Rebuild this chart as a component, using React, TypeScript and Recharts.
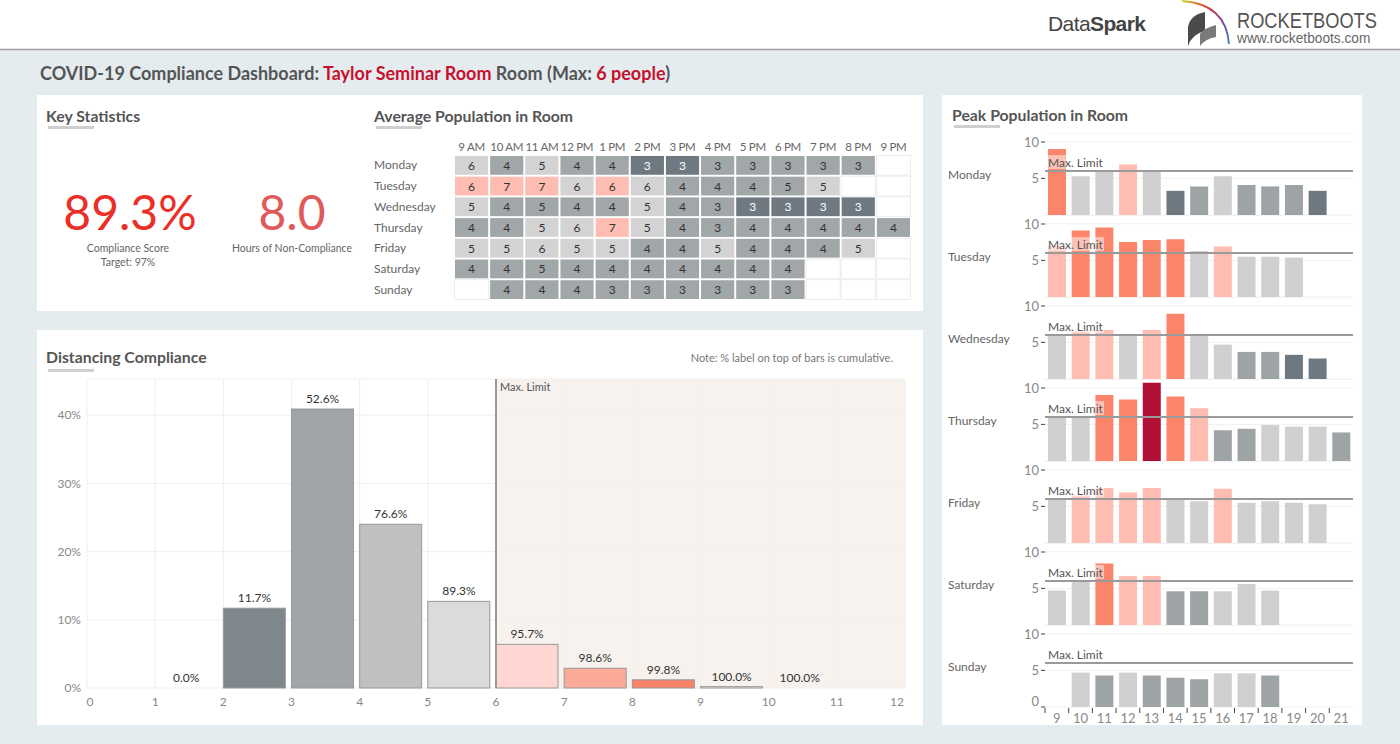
import React from 'react';
import {
  BarChart, Bar, Line, ComposedChart, XAxis, YAxis, CartesianGrid, ReferenceLine, ReferenceArea,
  LabelList, Cell, ScatterChart, Scatter,
} from 'recharts';

const FONT = 'Lato, "Open Sans", sans-serif';

// ---- shared dimensions ----
const days = ['Monday', 'Tuesday', 'Wednesday', 'Thursday', 'Friday', 'Saturday', 'Sunday'];
const hourLabels = ['9 AM', '10 AM', '11 AM', '12 PM', '1 PM', '2 PM', '3 PM', '4 PM', '5 PM', '6 PM', '7 PM', '8 PM', '9 PM'];
const hours = [9, 10, 11, 12, 13, 14, 15, 16, 17, 18, 19, 20, 21];
const maxPeople = 6;

// ---- key statistics ----
const complianceScore = '89.3%';
const complianceTarget = 'Target: 97%';
const hoursNonCompliance = '8.0';

// ---- average population (heatmap), null = no data ----
const avgMon = [6, 4, 5, 4, 4, 3, 3, 3, 3, 3, 3, 3, null];
const avgTue = [6, 7, 7, 6, 6, 6, 4, 4, 4, 5, 5, null, null];
const avgWed = [5, 4, 5, 4, 4, 5, 4, 3, 3, 3, 3, 3, null];
const avgThu = [4, 4, 5, 6, 7, 5, 4, 3, 4, 4, 4, 4, 4];
const avgFri = [5, 5, 6, 5, 5, 4, 4, 5, 4, 4, 4, 5, null];
const avgSat = [4, 4, 5, 4, 4, 4, 4, 4, 4, 4, null, null, null];
const avgSun = [null, 4, 4, 4, 3, 3, 3, 3, 3, 3, null, null, null];
const avgByDay = [avgMon, avgTue, avgWed, avgThu, avgFri, avgSat, avgSun];
// colour band per cell: L light, M mid, D dark, P pink
const avgBands = [
  'LMLMMDDMMMMM-',
  'PPPLPLMMMML--',
  'LMMMMLMMDDDD-',
  'MMLLPLMMMMMMM',
  'LLLLLMMLMMML-',
  'MMMMMMMMMM---',
  '-MMMMMMMMM---',
];

// ---- peak population per hour ----
const peakMon = [9, 5.3, 6.1, 6.9, 6.1, 3.3, 3.9, 5.3, 4.1, 3.9, 4.1, 3.3, null];
const peakTue = [7, 9.1, 9.5, 7.5, 7.8, 7.9, 6.3, 6.9, 5.5, 5.5, 5.4, null, null];
const peakWed = [6, 6.5, 6.7, 5.9, 6.7, 8.9, 5.9, 4.7, 3.7, 3.7, 3.3, 2.8, null];
const peakThu = [6, 6, 9, 8.4, 10.7, 8.8, 7.2, 4.2, 4.4, 4.9, 4.7, 4.7, 3.9];
const peakFri = [6.1, 6.5, 7.5, 6.9, 7.5, 6.1, 5.7, 7.4, 5.5, 5.7, 5.5, 5.3, null];
const peakSat = [4.7, 6.1, 8.4, 6.7, 6.7, 4.6, 4.6, 4.6, 5.6, 4.7, null, null, null];
const peakSun = [null, 4.7, 4.3, 4.7, 4.3, 4.0, 3.8, 4.6, 4.6, 4.3, null, null, null];
const peakByDay = [peakMon, peakTue, peakWed, peakThu, peakFri, peakSat, peakSun];
// L light, M mid, D dark, P pink, R over limit, C far over limit
const peakBands = [
  'RLLPLDMLMMMD-',
  'PRRRRRLPLLL--',
  'LPPLPRLLMMDD-',
  'LLRRCRPMMLLLM',
  'LPPPPLLPLLLL-',
  'LLRPPMMLLL---',
  '-LMLMMMLLM---',
];

// ---- distancing compliance histogram (share of time per occupancy bin) ----
const binStarts = [0, 1, 2, 3, 4, 5, 6, 7, 8, 9, 10, 11];
const binShare = [null, 0, 11.7, 40.9, 24.0, 12.7, 6.4, 2.9, 1.2, 0.2, 0.0, null];
const binBands = ['-', '-', 'D', 'M', 'L', 'l', 'p', 'P', 'R', 'W', 'W', '-'];
const pctTicks = [0, 10, 20, 30, 40];
const peopleTicks = [0, 1, 2, 3, 4, 5, 6, 7, 8, 9, 10, 11, 12];

const heatColor: Record<string, string> = { L: '#d3d3d3', M: '#a1a6a9', D: '#6e7981', P: '#ffbcb2' };
const peakColor: Record<string, string> = {
  L: '#d0d0d0', M: '#9ea3a6', D: '#6d7880', P: '#ffbdb2', R: '#fb856a', C: '#b10f35',
};
const binColor: Record<string, string> = {
  D: '#7e878c', M: '#a1a5a8', L: '#bfc0c0', l: '#dbdbdb', p: '#ffd6d1', P: '#fcaa98', R: '#fb8468', W: '#f2f2f2',
};

// ---------------- header / panels ----------------
const Backdrop = () => (
  <svg width={1400} height={744} style={{ position: 'absolute', left: 0, top: 0 }}>
    <rect x={0} y={0} width={1400} height={49} fill="#fff" />
    <line x1={0} x2={1400} y1={49.5} y2={49.5} stroke="#9c9c9c" strokeWidth={1.5} />

    <text x={1048} y={31} fontFamily='"Liberation Sans", Arial' fontSize={21} fill="#444" letterSpacing={-0.6}>
      Data<tspan fontWeight={700}>Spark</tspan>
    </text>
    {/* rocketboots mark */}
    <defs>
      <linearGradient id="rb" x1="0" y1="0" x2="1" y2="1">
        <stop offset="0" stopColor="#c8d830" />
        <stop offset="0.3" stopColor="#e8402a" />
        <stop offset="0.65" stopColor="#8a3fa0" />
        <stop offset="1" stopColor="#2f7fc8" />
      </linearGradient>
    </defs>
    <path d="M1182,1 Q1226,4 1229,44" fill="none" stroke="url(#rb)" strokeWidth={1.8} />
    <path d="M1188,46 L1188,27 Q1190,15 1205,12 L1205,31 Q1192,34 1188,46 Z" fill="#4a4a4a" />
    <path d="M1200,46 L1200,34 Q1204,28 1216,25 L1216,37 Q1205,39 1200,46 Z" fill="#7a7a7a" />
    <text transform="translate(1237,27.5) scale(0.83,1)" fontFamily='"Liberation Sans", Arial' fontSize={22} fill="#555">ROCKETBOOTS</text>
    <text transform="translate(1237,43) scale(0.98,1)" fontFamily='"Liberation Sans", Arial' fontSize={14} fill="#666">www.rocketboots.com</text>

    <text x={40} y={80} fontSize={18} fontWeight={700} fill="#555">
      COVID-19 Compliance Dashboard: <tspan fill="#c8102e">Taylor Seminar Room</tspan> Room (Max: <tspan fill="#c8102e">6 people</tspan>)
    </text>

    <rect x={37} y={95} width={886} height={216} fill="#fff" />
    <rect x={37} y={330} width={886} height={395} fill="#fff" />
    <rect x={942} y={95} width={420} height={630} fill="#fff" />

    <text x={46} y={122} fontSize={15.8} fontWeight={700} fill="#555">Key Statistics</text>
    <rect x={48} y={126} width={46} height={3} fill="#cfcfcf" />
    <text x={374} y={122} fontSize={15.8} fontWeight={700} fill="#555">Average Population in Room</text>
    <rect x={376} y={126} width={46} height={3} fill="#cfcfcf" />
    <text x={952} y={121} fontSize={15.8} fontWeight={700} fill="#555">Peak Population in Room</text>
    <rect x={954} y={125} width={46} height={3} fill="#cfcfcf" />
    <text x={46} y={363} fontSize={15.8} fontWeight={700} fill="#555">Distancing Compliance</text>
    <rect x={48} y={369} width={46} height={3} fill="#cfcfcf" />
    <text x={893} y={362} fontSize={11} fill="#777" textAnchor="end">Note: % label on top of bars is cumulative.</text>

    <text x={130} y={230} fontSize={48} fill="#ec2f26" textAnchor="middle">{complianceScore}</text>
    <text x={128} y={252} fontSize={10.5} fill="#666" textAnchor="middle">Compliance Score</text>
    <text x={128} y={266} fontSize={10.5} fill="#666" textAnchor="middle">{complianceTarget}</text>
    <text x={292} y={230} fontSize={48} fill="#e05a5a" textAnchor="middle">{hoursNonCompliance}</text>
    <text x={292} y={252} fontSize={10.5} fill="#666" textAnchor="middle">Hours of Non-Compliance</text>

    {days.map((d, i) => (
      <text key={d} x={948} y={179 + 82 * i} fontSize={12} fill="#666">{d}</text>
    ))}
  </svg>
);

// ---------------- heatmap ----------------
const heatCells = days.flatMap((_, r) =>
  avgByDay[r].map((v, c) => ({ col: c, row: r, v, band: avgBands[r][c] })),
);

const HeatCell = (props: any) => {
  const { cx, cy, payload } = props;
  if (payload.v == null) {
    return <rect x={cx - 17.1} y={cy - 9.9} width={34.2} height={19.8} fill="#fff" stroke="#ececec" />;
  }
  return (
    <g>
      <rect x={cx - 16.6} y={cy - 9.4} width={33.2} height={18.8} fill={heatColor[payload.band]} />
      <text x={cx} y={cy + 4.5} textAnchor="middle" fontSize={12} fill={payload.band === 'D' ? '#fff' : '#333'}>
        {payload.v}
      </text>
    </g>
  );
};

const RowTick = (props: any) => {
  const { y, payload } = props;
  return <text x={8} y={y + 4} fontSize={12} fill="#666">{days[payload.value]}</text>;
};

const Heatmap = () => (
  <ScatterChart width={555} height={175} margin={{ top: 5, right: 10, bottom: 5, left: 0 }}>
    <XAxis
      type="number" dataKey="col" orientation="top" domain={[-0.5, 12.5]} ticks={hours.map((_, i) => i)}
      tickFormatter={(i: number) => hourLabels[i]} interval={0} height={20}
      axisLine={false} tickLine={false} tickSize={0} tickMargin={4}
      tick={{ fontSize: 11.5, fill: '#666', letterSpacing: -0.3 }}
    />
    <YAxis
      type="number" dataKey="row" domain={[-0.5, 6.5]} ticks={days.map((_, i) => i)} reversed interval={0}
      width={88} axisLine={false} tickLine={false} tick={<RowTick />}
    />
    <Scatter data={heatCells} shape={<HeatCell />} isAnimationActive={false} />
  </ScatterChart>
);

// ---------------- distancing histogram ----------------
let running = 0;
const distData = binStarts.map((b, i) => {
  const s = binShare[i];
  if (s != null) running += s;
  return { x: b + 0.5, share: s, cum: s == null ? '' : `${running.toFixed(1)}%`, band: binBands[i] };
});

const LimitLabelV = (props: any) => {
  const { viewBox } = props;
  return <text x={viewBox.x + 4} y={viewBox.y + 12} fontSize={11} fill="#555">Max. Limit</text>;
};

// bins sit a touch left of centre, as in the source dashboard
const HistBar = (props: any) => {
  const { x, y, width, height, fill, stroke } = props;
  if (!height || height <= 0) return null;
  return <rect x={x - 3} y={y} width={width} height={height} fill={fill} stroke={stroke} strokeWidth={1} />;
};

const PeopleTick = (props: any) => {
  const { x, y, payload } = props;
  const nudge = payload.value === 0 ? 3 : payload.value === 12 ? -8 : 0;
  return <text x={x + nudge} y={y + 18} textAnchor="middle" fontSize={12} fill="#888">{payload.value}</text>;
};

const Distancing = () => (
  <ComposedChart width={886} height={350} data={distData} margin={{ top: 9, right: 18, bottom: 7, left: 0 }}>
    <ReferenceArea x1={maxPeople} x2={12} fill="#f5efe9" fillOpacity={0.8} stroke="none" />
    <CartesianGrid stroke="#efefef" />
    <XAxis
      type="number" dataKey="x" domain={[0, 12]} ticks={peopleTicks} interval={0}
      height={25} axisLine={false} tickLine={false} tickSize={0} tickMargin={0} tick={<PeopleTick />}
    />
    <YAxis
      type="number" domain={[0, 45.3]} ticks={pctTicks} tickFormatter={(v: number) => `${v}%`} width={50}
      axisLine={false} tickLine={false} tickSize={0} tickMargin={6} tick={{ fontSize: 12, fill: '#888' }}
    />
    <Bar dataKey="share" barSize={62} isAnimationActive={false} shape={<HistBar />}>
      {distData.map((d, i) => (
        <Cell key={i} fill={binColor[d.band] ?? 'none'} stroke="#999" />
      ))}
    </Bar>
    <Line dataKey="share" stroke="none" dot={false} activeDot={false} legendType="none" isAnimationActive={false}>
      <LabelList dataKey="cum" position="top" offset={6} dx={-3} fontSize={12} fill="#333" />
    </Line>
    <ReferenceLine x={maxPeople} stroke="#9a9a9a" strokeWidth={2} label={<LimitLabelV />} />
  </ComposedChart>
);

// ---------------- peak population small multiples ----------------
const LimitLabelH = (props: any) => {
  const { viewBox } = props;
  return (
    <g>
      <rect x={viewBox.x + 1} y={viewBox.y - 16} width={58} height={14} fill="#fff" fillOpacity={0.5} />
      <text x={viewBox.x + 3} y={viewBox.y - 4} fontSize={12} fill="#555">Max. Limit</text>
    </g>
  );
};

const CountTick = (props: any) => {
  const { x, y, payload } = props;
  const base = payload.value === 0 ? y - 1 : y + 4.5;
  return (
    <g>
      <line x1={x + 2} x2={x + 6} y1={y} y2={y} stroke="#444" />
      <text x={x} y={base} textAnchor="end" fontSize={13} fill="#888">{payload.value}</text>
    </g>
  );
};

const HourTick = (props: any) => {
  const { x, y, payload } = props;
  return (
    <g>
      <line x1={x - 11.85} x2={x - 11.85} y1={y + 1} y2={y + 6} stroke="#444" />
      <text x={x} y={y + 16} textAnchor="middle" fontSize={13} fill="#888">{payload.value}</text>
    </g>
  );
};

const PeakChart = ({ idx }: { idx: number }) => {
  const last = idx === days.length - 1;
  const data = hours.map((h, j) => ({ hour: h, v: peakByDay[idx][j], band: peakBands[idx][j] }));
  return (
    <BarChart width={420} height={last ? 106 : 90} data={data} margin={{ top: 0, right: 9, bottom: last ? 0 : 8, left: 0 }}>
      <CartesianGrid stroke="#f0f0f0" vertical={false} />
      {last ? (
        <XAxis dataKey="hour" interval={0} height={24} axisLine={false} tickLine={false} tickSize={0} tickMargin={0} tick={<HourTick />} />
      ) : (
        <XAxis dataKey="hour" hide />
      )}
      <YAxis
        type="number" domain={[0, 11.2]} ticks={[0, 5, 10]} width={103} axisLine={false}
        tickSize={4} tickMargin={2} tickLine={false} tick={<CountTick />}
      />
      <Bar dataKey="v" barSize={18} isAnimationActive={false}>
        {data.map((d, j) => (
          <Cell key={j} fill={peakColor[d.band] ?? 'none'} />
        ))}
      </Bar>
      <ReferenceLine y={maxPeople} stroke="#9a9a9a" strokeWidth={2} label={<LimitLabelH />} />
    </BarChart>
  );
};

export default function App() {
  return (
    <div style={{ position: 'absolute', left: 0, top: 0, width: 1400, height: 744, overflow: 'hidden', fontFamily: FONT, background: '#e4ecf0' }}>
      <Backdrop />
      <div style={{ position: 'absolute', left: 366, top: 130 }}>
        <Heatmap />
      </div>
      <div style={{ position: 'absolute', left: 37, top: 370 }}>
        <Distancing />
      </div>
      {days.map((d, i) => (
        <div key={d} style={{ position: 'absolute', left: 942, top: 133 + 82 * i }}>
          <PeakChart idx={i} />
        </div>
      ))}
    </div>
  );
}
